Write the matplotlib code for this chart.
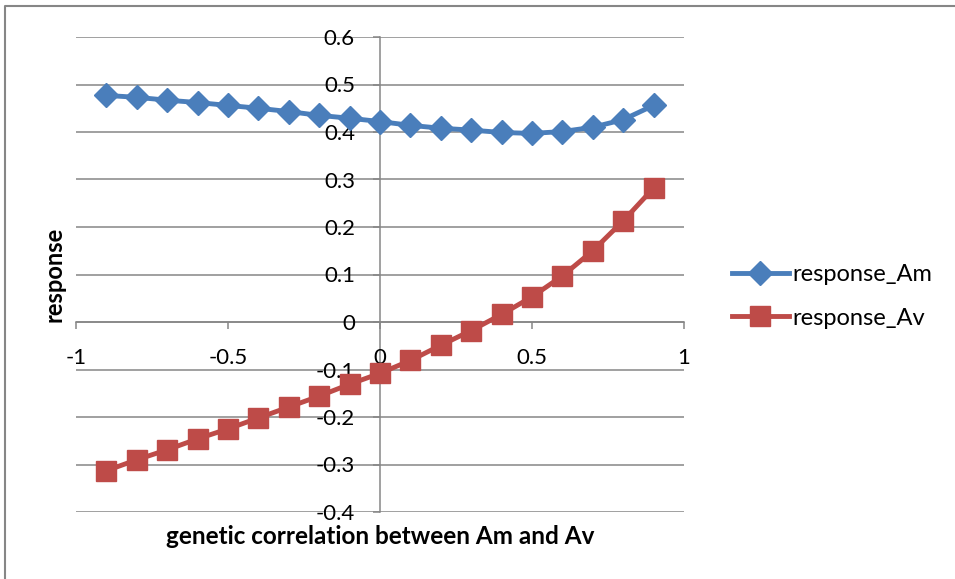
import numpy as np
import matplotlib.pyplot as plt
from matplotlib.lines import Line2D

plt.rcParams['font.family'] = ['Lato', 'DejaVu Sans']

corr = [-0.9, -0.8, -0.7, -0.6, -0.5, -0.4, -0.3, -0.2, -0.1, 0.0,
        0.1, 0.2, 0.3, 0.4, 0.5, 0.6, 0.7, 0.8, 0.9]
response_Am = [0.477, 0.473, 0.467, 0.462, 0.456, 0.450, 0.443, 0.435, 0.429, 0.422,
               0.414, 0.408, 0.404, 0.399, 0.397, 0.401, 0.410, 0.426, 0.456]
response_Av = [-0.313, -0.290, -0.269, -0.246, -0.225, -0.202, -0.179, -0.156, -0.131, -0.108,
               -0.081, -0.049, -0.018, 0.016, 0.053, 0.097, 0.150, 0.213, 0.282]
xtick_labels = ['-1', '-0.5', '0', '0.5', '1']
ytick_labels = ['-0.4', '-0.3', '-0.2', '-0.1', '0', '0.1', '0.2', '0.3', '0.4', '0.5', '0.6']

W, H = 955, 579
fig = plt.figure(figsize=(W / 100, H / 100), dpi=100)
ax = fig.add_axes([76 / W, 1 - 512 / H, 608 / W, 475 / H])

grid_c = '#868686'
ax.plot(corr, response_Am, color='#4A7EBB', lw=3.5, marker='D', ms=12.5, label='response_Am')
ax.plot(corr, response_Av, color='#BE4B48', lw=3.5, marker='s', ms=14, label='response_Av')

ax.set_xlim(-1, 1)
ax.set_ylim(-0.4, 0.6)
ax.set_xticks(np.linspace(-1, 1, 5))
ax.set_xticklabels(xtick_labels)
ax.set_yticks(np.linspace(-0.4, 0.6, 11))
ax.set_yticklabels(ytick_labels)
ax.yaxis.grid(True, color=grid_c, lw=1.1)
ax.set_axisbelow(True)

for s in ['top', 'right']:
    ax.spines[s].set_visible(False)
ax.spines['left'].set_position(('data', 0))
ax.spines['bottom'].set_position(('data', 0))
for s in ['left', 'bottom']:
    ax.spines[s].set_color(grid_c)
    ax.spines[s].set_linewidth(1.1)
    ax.spines[s].set_zorder(0.5)
ax.tick_params(direction='out', length=5, width=1.1, color=grid_c, labelsize=16)
ax.tick_params(axis='x', pad=13.5)
ax.tick_params(axis='y', pad=13)

ax.set_xlabel('genetic correlation between Am and Av', fontsize=17.5, fontweight='bold')
ax.xaxis.set_label_coords(0.5, -0.027)
ax.set_ylabel('response', fontsize=17, fontweight='bold')
ax.yaxis.set_label_coords(-0.018, 0.5)

ax.legend(loc='center left', bbox_to_anchor=(732 / W, 1 - 296.5 / H),
          bbox_transform=fig.transFigure, frameon=False, fontsize=17,
          borderpad=0, borderaxespad=0, handlelength=2.4, labelspacing=0.95,
          handletextpad=0.15)

# chart area border (only left and top edges are inside the picture)
fig.add_artist(Line2D([5 / W, 5 / W, 1], [0, 1 - 6 / H, 1 - 6 / H],
                      transform=fig.transFigure, color=grid_c, lw=1.5))

fig.savefig('out.png', dpi=100)
